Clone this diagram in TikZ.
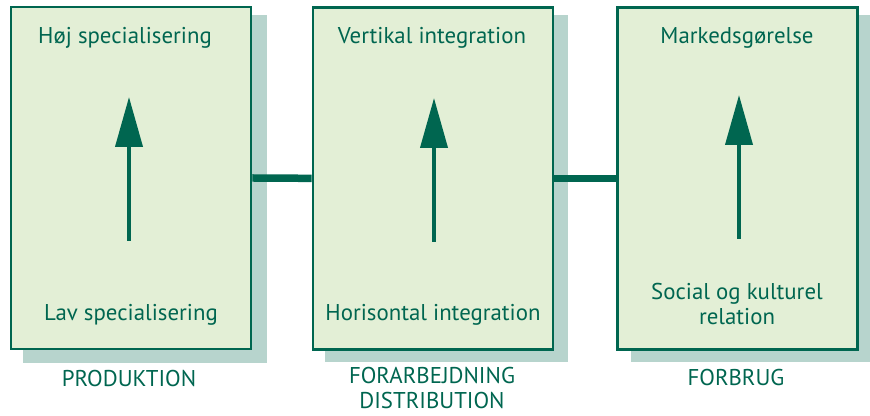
\documentclass[tikz,border=0pt]{standalone}
\usepackage{fontspec}
\setmainfont{PT Sans}
\usepackage{tikz}
\usetikzlibrary{arrows.meta}
\definecolor{stagefill}{RGB}{227, 239, 214}
\definecolor{stageedge}{RGB}{0, 102, 80}
\definecolor{stageshade}{RGB}{183, 212, 205}

\tikzset{
  stagebox/.style={draw=stageedge, fill=stagefill, line width=2.4pt,
    minimum width=7.2cm, minimum height=10.26cm, inner sep=0pt},
  stagetext/.style={text=stageedge, font=\fontsize{19.5}{21.5}\selectfont, align=center, inner sep=1pt},
  stagelink/.style={draw=stageedge, line width=6.4pt},
  stagearrow/.style={draw=stageedge, line width=3.4pt,
    -{Triangle[width=0.81cm, length=1.5cm]}}
}

\begin{document}
\begin{tikzpicture}
	\useasboundingbox (0,0) rectangle (26.1,12.48);

	% shadows
	\fill[stageshade] (0.69,12.03) rectangle (8.01,1.60);
	\fill[stageshade] (9.75,12.03) rectangle (17.04,1.62);
	\fill[stageshade] (18.93,12.03) rectangle (26.25,1.62);

	% boxes
	\node[stagebox] (prod) at (3.93,7.14) {};
	\node[stagebox] (dist) at (12.99,7.13) {};
	\node[stagebox] (forb) at (22.13,7.13) {};

	\draw[stagelink] (prod.east) -- (dist.west);
	\draw[stagelink] (dist.east) -- (forb.west);

	% arrows
	\coordinate (prodlow) at (3.87,5.25);
	\coordinate (prodhigh) at (3.87,9.57);
	\coordinate (distlow) at (13.02,5.22);
	\coordinate (disthigh) at (13.02,9.54);
	\coordinate (forblow) at (22.17,5.31);
	\coordinate (forbhigh) at (22.17,9.63);
	\draw[stagearrow] (prodlow) -- (prodhigh);
	\draw[stagearrow] (distlow) -- (disthigh);
	\draw[stagearrow] (forblow) -- (forbhigh);

	% texts
	\node[stagetext] (prodtop) at (3.75,11.34) {Høj specialisering};
	\node[stagetext] (prodbot) at (3.93,3.03) {Lav specialisering};
	\node[stagetext] (disttop) at (12.96,11.34) {Vertikal integration};
	\node[stagetext] (distbot) at (12.99,3.03) {Horisontal integration};
	\node[stagetext] (forbtop) at (22.11,11.34) {Markedsgørelse};
	\node[stagetext] (forbbot) at (22.11,3.35) {Social og kulturel\\relation};

	\node[stagetext] (prodname) at (3.87,1.11) {PRODUKTION};
	\node[stagetext] (distname) at (12.96,0.84) {FORARBEJDNING\\DISTRIBUTION};
	\node[stagetext] (forbname) at (22.08,1.14) {FORBRUG};
\end{tikzpicture}
\end{document}
